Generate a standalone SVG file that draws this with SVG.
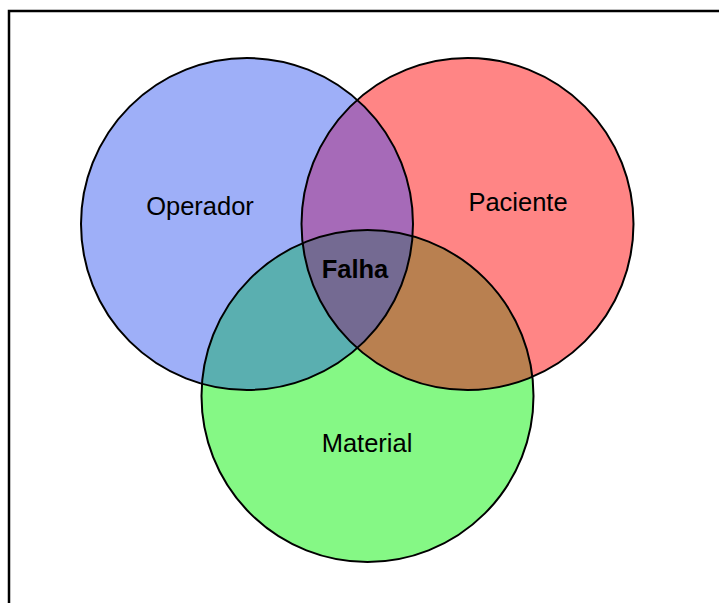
<svg xmlns="http://www.w3.org/2000/svg" width="719" height="603" viewBox="0 0 719 603">
<style>
.o{fill:none;stroke:#000;stroke-width:2}
.t{font-family:"Liberation Sans",Arial,sans-serif;font-size:25.5px;fill:#000;text-anchor:middle}
</style>
<defs>
<circle id="cb" cx="247" cy="224" r="166"/>
<circle id="cr" cx="467.5" cy="224" r="166"/>
<circle id="cg" cx="367.5" cy="396" r="166"/>
<clipPath id="kb"><use href="#cb"/></clipPath>
<clipPath id="kr"><use href="#cr"/></clipPath>
</defs>
<rect width="719" height="603" fill="#fff"/>
<rect x="9" y="11" width="720" height="600" fill="none" stroke="#000" stroke-width="2.5"/>
<g id="operador"><use href="#cb" fill="#9eaff8"/></g>
<g id="paciente"><use href="#cr" fill="#ff8585"/></g>
<g id="material"><use href="#cg" fill="#85f885"/></g>
<g id="overlaps">
<use href="#cr" fill="#a66ab8" clip-path="url(#kb)"/>
<use href="#cg" fill="#5aafb0" clip-path="url(#kb)"/>
<use href="#cg" fill="#b98050" clip-path="url(#kr)"/>
<g clip-path="url(#kr)"><use href="#cg" fill="#746a92" clip-path="url(#kb)"/></g>
</g>
<g id="outlines">
<use href="#cb" class="o"/>
<use href="#cr" class="o"/>
<use href="#cg" class="o"/>
</g>
<g id="labels">
<text class="t" x="200" y="215">Operador</text>
<text class="t" x="518" y="211">Paciente</text>
<text class="t" x="355" y="278" font-weight="bold">Falha</text>
<text class="t" x="367" y="452">Material</text>
</g>
<g id="connectors"/>
</svg>
